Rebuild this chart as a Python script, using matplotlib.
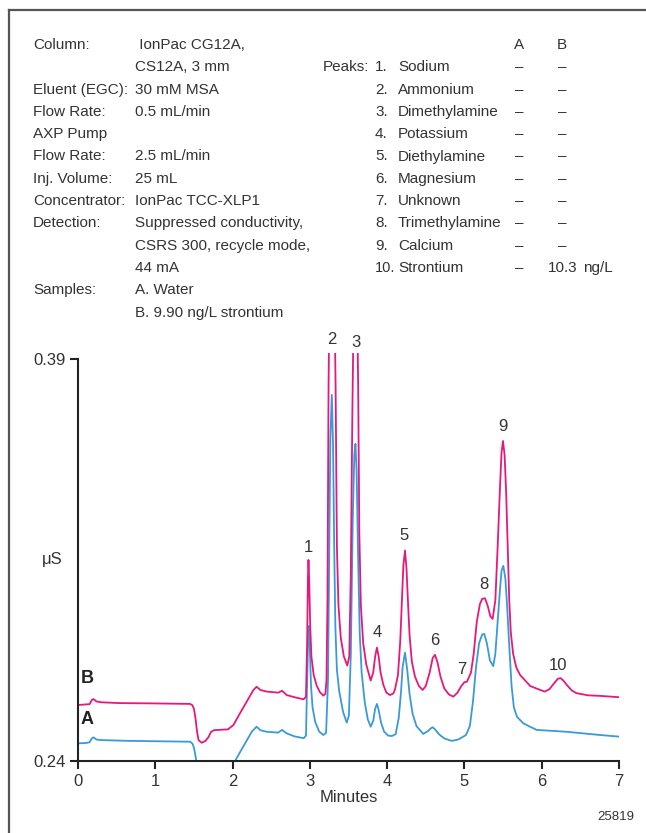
import matplotlib
matplotlib.use("Agg")
import matplotlib.pyplot as plt
from matplotlib.lines import Line2D

plt.rcParams['font.family'] = ['Liberation Sans', 'DejaVu Sans']

# trace B (9.90 ng/L strontium)
time_b = [0.00, 0.10, 0.15, 0.18, 0.20, 0.24, 0.30, 0.54, 0.93, 1.45, 1.48, 1.50, 1.52, 1.54,
          1.56, 1.60, 1.65, 1.69, 1.72, 1.76, 1.94, 2.01, 2.10, 2.20, 2.27, 2.31, 2.36, 2.44,
          2.59, 2.64, 2.70, 2.80, 2.92, 2.95, 2.965, 2.975, 2.982, 2.992, 3.005, 3.02, 3.05,
          3.09, 3.13, 3.174, 3.20, 3.215, 3.228, 3.242, 3.26, 3.284, 3.31, 3.333, 3.35, 3.37,
          3.40, 3.44, 3.484, 3.51, 3.53, 3.55, 3.57, 3.59, 3.61, 3.625, 3.64, 3.66, 3.69, 3.73,
          3.787, 3.82, 3.845, 3.868, 3.89, 3.915, 3.95, 3.99, 4.037, 4.08, 4.10, 4.14, 4.17,
          4.19, 4.21, 4.231, 4.25, 4.27, 4.29, 4.32, 4.36, 4.41, 4.46, 4.50, 4.55, 4.59, 4.619,
          4.65, 4.69, 4.74, 4.80, 4.856, 4.91, 4.96, 5.00, 5.033, 5.085, 5.12, 5.16, 5.20, 5.23,
          5.266, 5.30, 5.335, 5.365, 5.40, 5.43, 5.46, 5.48, 5.499, 5.52, 5.54, 5.56, 5.58, 5.60,
          5.63, 5.67, 5.72, 5.85, 5.98, 6.04, 6.10, 6.16, 6.21, 6.245, 6.28, 6.33, 6.39, 6.45,
          6.60, 6.75, 7.00]
signal_b = [0.2609, 0.2611, 0.2612, 0.2628, 0.2631, 0.2622, 0.2619, 0.2616, 0.2615, 0.2613,
            0.2608, 0.2595, 0.2560, 0.2510, 0.2478, 0.2468, 0.2475, 0.2490, 0.2508, 0.2515,
            0.2518, 0.2534, 0.2580, 0.2630, 0.2665, 0.2677, 0.2665, 0.2659, 0.2655, 0.2662,
            0.2646, 0.2638, 0.2630, 0.2640, 0.2850, 0.3080, 0.3150, 0.3070, 0.2900, 0.2790,
            0.2720, 0.2680, 0.2657, 0.2644, 0.2650, 0.2700, 0.3000, 0.3800, 0.4300, 0.4500,
            0.4300, 0.3800, 0.3200, 0.2980, 0.2860, 0.2790, 0.2756, 0.2790, 0.3100, 0.3700,
            0.4150, 0.4300, 0.4150, 0.3800, 0.3250, 0.2980, 0.2840, 0.2760, 0.2700, 0.2730,
            0.2790, 0.2823, 0.2790, 0.2730, 0.2685, 0.2655, 0.2646, 0.2652, 0.2665, 0.2720,
            0.2850, 0.2990, 0.3130, 0.3185, 0.3120, 0.2990, 0.2870, 0.2770, 0.2715, 0.2680,
            0.2665, 0.2680, 0.2730, 0.2785, 0.2796, 0.2770, 0.2715, 0.2670, 0.2648, 0.2640,
            0.2655, 0.2680, 0.2694, 0.2696, 0.2730, 0.2800, 0.2920, 0.2985, 0.3005, 0.3007,
            0.2980, 0.2940, 0.2930, 0.3000, 0.3200, 0.3420, 0.3550, 0.3594, 0.3540, 0.3400,
            0.3200, 0.3000, 0.2880, 0.2800, 0.2750, 0.2721, 0.2680, 0.2665, 0.2659, 0.2668,
            0.2690, 0.2707, 0.2709, 0.2700, 0.2682, 0.2663, 0.2653, 0.2645, 0.2643, 0.2638]

# trace A (water)
time_a = [0.00, 0.10, 0.15, 0.18, 0.20, 0.24, 0.30, 0.67, 1.45, 1.48, 1.50, 1.52, 1.54, 1.58,
          1.64, 1.84, 1.97, 2.04, 2.15, 2.25, 2.31, 2.36, 2.44, 2.59, 2.64, 2.70, 2.80, 2.92,
          2.95, 2.965, 2.978, 2.989, 3.00, 3.015, 3.035, 3.07, 3.12, 3.174, 3.21, 3.235, 3.25,
          3.265, 3.284, 3.30, 3.315, 3.33, 3.35, 3.38, 3.43, 3.477, 3.505, 3.53, 3.555, 3.575,
          3.590, 3.605, 3.625, 3.645, 3.67, 3.71, 3.75, 3.787, 3.82, 3.845, 3.868, 3.89, 3.92,
          3.96, 4.01, 4.06, 4.11, 4.15, 4.18, 4.20, 4.231, 4.26, 4.29, 4.33, 4.38, 4.467, 4.53,
          4.57, 4.589, 4.62, 4.67, 4.74, 4.835, 4.92, 4.98, 5.02, 5.07, 5.11, 5.15, 5.19, 5.23,
          5.257, 5.29, 5.33, 5.373, 5.40, 5.43, 5.46, 5.48, 5.503, 5.53, 5.55, 5.58, 5.61, 5.64,
          5.68, 5.76, 5.848, 5.935, 6.323, 6.754, 7.00]
signal_a = [0.2466, 0.2467, 0.2470, 0.2485, 0.2488, 0.2480, 0.2478, 0.2475, 0.2472, 0.2465,
            0.2450, 0.2420, 0.2380, 0.2320, 0.2254, 0.2273, 0.2348, 0.2404, 0.2460, 0.2510,
            0.2528, 0.2515, 0.2509, 0.2506, 0.2516, 0.2503, 0.2492, 0.2485, 0.2495, 0.2700,
            0.2860, 0.2904, 0.2820, 0.2680, 0.2600, 0.2545, 0.2510, 0.2497, 0.2505, 0.2700,
            0.3150, 0.3600, 0.3766, 0.3580, 0.3200, 0.2900, 0.2740, 0.2660, 0.2583, 0.2543,
            0.2570, 0.2800, 0.3300, 0.3540, 0.3583, 0.3480, 0.3150, 0.2880, 0.2730, 0.2620,
            0.2555, 0.2528, 0.2550, 0.2595, 0.2613, 0.2590, 0.2545, 0.2510, 0.2495, 0.2493,
            0.2500, 0.2560, 0.2660, 0.2750, 0.2804, 0.2740, 0.2650, 0.2575, 0.2530, 0.2501,
            0.2512, 0.2523, 0.2526, 0.2518, 0.2500, 0.2484, 0.2475, 0.2480, 0.2490, 0.2497,
            0.2530, 0.2620, 0.2750, 0.2840, 0.2872, 0.2874, 0.2840, 0.2775, 0.2754, 0.2800,
            0.2920, 0.3040, 0.3110, 0.3128, 0.3080, 0.2990, 0.2830, 0.2680, 0.2600, 0.2565,
            0.2541, 0.2528, 0.2516, 0.2509, 0.2497, 0.2491]

peak_labels = ['1', '2', '3', '4', '5', '6', '7', '8', '9', '10']
peak_label_t = [2.98, 3.28, 3.60, 3.87, 4.22, 4.62, 4.97, 5.25, 5.50, 6.21]
peak_label_y = [0.3195, 0.3971, 0.3963, 0.2878, 0.3240, 0.2851, 0.2740, 0.3060, 0.3646, 0.2758]

cond_labels = ['Column:', '', 'Eluent (EGC):', 'Flow Rate:', 'AXP Pump', 'Flow Rate:',
               'Inj. Volume:', 'Concentrator:', 'Detection:', '', '', 'Samples:', '']
cond_values = [' IonPac CG12A,', 'CS12A, 3 mm', '30 mM MSA', '0.5 mL/min', '', '2.5 mL/min',
               '25 mL', 'IonPac TCC-XLP1', 'Suppressed conductivity,', 'CSRS 300, recycle mode,',
               '44 mA', 'A. Water', 'B. 9.90 ng/L strontium']
peak_names = ['Sodium', 'Ammonium', 'Dimethylamine', 'Potassium', 'Diethylamine',
              'Magnesium', 'Unknown', 'Trimethylamine', 'Calcium', 'Strontium']
conc_a = ['–'] * 10
conc_b = ['–'] * 9 + ['10.3']

W, H = 646, 833
fig = plt.figure(figsize=(W / 100, H / 100), dpi=100)


def fx(px):
    return px / W


def fy(py):
    return 1 - py / H


# frame around the figure
fig.add_artist(Line2D([fx(8.5), fx(8.5)], [fy(10), 0], color='#555555', lw=1.6))
fig.add_artist(Line2D([fx(8.5), 1], [fy(10), fy(10)], color='#555555', lw=1.6))

tc = '#333333'
fs = 11
row0, dy = 45, 22.3
for i, (lab, val) in enumerate(zip(cond_labels, cond_values)):
    y = fy(row0 + i * dy)
    if lab:
        fig.text(fx(33), y, lab, fontsize=fs, color=tc, va='center')
    if val:
        fig.text(fx(135), y, val, fontsize=fs, color=tc, va='center')

fig.text(fx(519), fy(row0), 'A', fontsize=fs, color=tc, va='center', ha='center')
fig.text(fx(562), fy(row0), 'B', fontsize=fs, color=tc, va='center', ha='center')
fig.text(fx(369), fy(row0 + dy), 'Peaks:', fontsize=fs, color=tc, va='center', ha='right')
for i, name in enumerate(peak_names):
    y = fy(row0 + (i + 1) * dy)
    fig.text(fx(375), y, f'{i + 1}.', fontsize=fs if i < 9 else fs - 0.5, color=tc, va='center')
    fig.text(fx(398), y, name, fontsize=fs, color=tc, va='center')
    fig.text(fx(519), y, conc_a[i], fontsize=fs, color=tc, va='center', ha='center')
    if conc_b[i] == '–':
        fig.text(fx(562), y, conc_b[i], fontsize=fs, color=tc, va='center', ha='center')
    else:
        fig.text(fx(548), y, conc_b[i], fontsize=fs, color=tc, va='center')
        fig.text(fx(583), y, 'ng/L', fontsize=fs, color=tc, va='center')

# chromatogram
ax = fig.add_axes([fx(78), fy(761), fx(619) - fx(78), (761 - 353) / H])
ax.plot(time_a, signal_a, color='#3a9ad9', lw=1.3)
ax.plot(time_b, signal_b, color='#e5197a', lw=1.3)
ax.set_xlim(0, 7)
ax.set_ylim(0.24, 0.3922)

for s in ['top', 'right']:
    ax.spines[s].set_visible(False)
ax.spines['left'].set_bounds(0.24, 0.39)
for s in ['left', 'bottom']:
    ax.spines[s].set_color('#222222')
    ax.spines[s].set_linewidth(1.5)
ax.set_xticks(range(8))
ax.set_yticks([0.24, 0.39])
ax.set_yticklabels(['0.24', '0.39'])
ax.tick_params(axis='both', direction='out', length=6, width=1.5, color='#222222',
               labelsize=12, labelcolor=tc, pad=3)
ax.set_xlabel('Minutes', fontsize=12, color=tc, labelpad=1)

for lab, t, v in zip(peak_labels, peak_label_t, peak_label_y):
    ax.text(t, v, lab, fontsize=12, color=tc, ha='center', va='center', clip_on=False)

ax.text(0.12, 0.2706, 'B', fontsize=13, fontweight='bold', color='#222222', ha='center', va='center')
ax.text(0.12, 0.2553, 'A', fontsize=13, fontweight='bold', color='#222222', ha='center', va='center')
ax.text(-0.2, 0.3150, 'μS', fontsize=12, color=tc, ha='right', va='center')

fig.text(fx(634), fy(817), '25819', fontsize=9.5, color=tc, ha='right', va='center')

fig.savefig('out.png', dpi=100)
